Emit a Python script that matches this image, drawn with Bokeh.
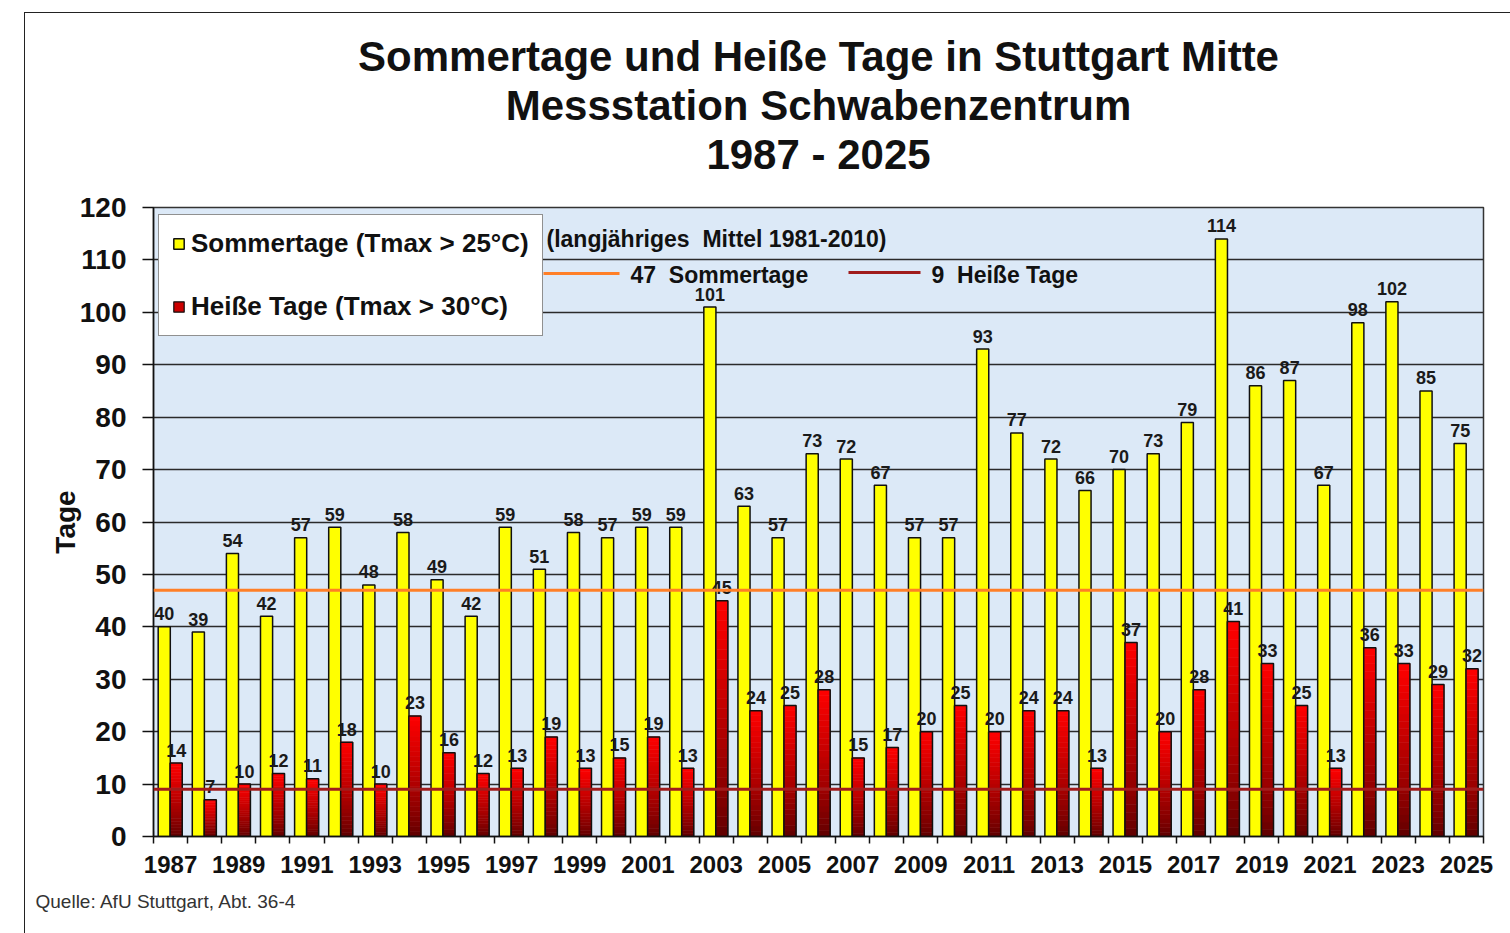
import numpy as np
from bokeh.plotting import figure
from bokeh.models import (Range1d, FixedTicker, ColumnDataSource, Label, Span,
                          Legend, LegendItem, Title, InlineStyleSheet)
from bokeh.transform import dodge
from bokeh.core.properties import value
from bokeh.embed import file_html
from bokeh.resources import INLINE

# ---------------- data ----------------
years = list(range(1987, 2026))
sommertage = [40, 39, 54, 42, 57, 59, 48, 58, 49, 42,
              59, 51, 58, 57, 59, 59, 101, 63, 57, 73,
              72, 67, 57, 57, 93, 77, 72, 66, 70, 73,
              79, 114, 86, 87, 67, 98, 102, 85, 75]
heisse_tage = [14, 7, 10, 12, 11, 18, 10, 23, 16, 12,
               13, 19, 13, 15, 19, 13, 45, 24, 25, 28,
               15, 17, 20, 25, 20, 24, 24, 13, 37, 20,
               28, 41, 33, 25, 13, 36, 33, 29, 32]
mittel_sommertage = 47
mittel_heisse = 9
x_tick_years = list(range(1987, 2026, 2))
y_ticks = list(range(0, 121, 10))

title_lines = ["Sommertage und Heiße Tage in Stuttgart Mitte",
               "Messstation Schwabenzentrum",
               "1987 - 2025"]
legend_labels = ["Sommertage (Tmax > 25°C)", "Heiße Tage (Tmax > 30°C)"]
NB2 = "\u00a0 "
mittel_title = f"(langjähriges{NB2}Mittel 1981-2010)"
mittel_labels = [f"{mittel_sommertage}{NB2}Sommertage", f"{mittel_heisse}{NB2}Heiße Tage"]
source_text = "Quelle: AfU Stuttgart, Abt. 36-4"

# ---------------- layout ----------------
FONT = "Liberation Sans"
W, H = 1510, 933
BL, BR, BT, BB = 153, 27, 207, 97
frame_left_px = BL
frame_top_px = BT
frame_w = W - BL - BR
frame_h = H - BT - BB
x0, x1 = years[0] - 0.5, years[-1] + 0.5
y0, y1 = 0, 120


def dx(px):
    return x0 + (px - frame_left_px) * (x1 - x0) / frame_w


def dy(py):
    return y1 - (py - frame_top_px) * (y1 - y0) / frame_h


frame_css = InlineStyleSheet(css="""
:host::after {
  content: "";
  position: absolute;
  left: 24px; top: 12px; right: -40px; bottom: -40px;
  border-left: 1.5px solid #222;
  border-top: 1.5px solid #222;
  pointer-events: none;
}
""")

p = figure(width=W, height=H, x_range=Range1d(x0, x1), y_range=Range1d(y0, y1),
           output_backend="svg", toolbar_location=None,
           min_border_left=BL, min_border_right=BR, min_border_top=BT, min_border_bottom=BB,
           stylesheets=[frame_css])
p.background_fill_color = "#dce9f7"
p.border_fill_color = "white"
p.outline_line_color = "#333333"
p.outline_line_width = 1.5

p.xgrid.visible = False
p.ygrid.ticker = FixedTicker(ticks=y_ticks)
p.ygrid.grid_line_color = "#2a2a2a"
p.ygrid.grid_line_width = 1.3

# y axis
yax = p.yaxis[0]
yax.ticker = FixedTicker(ticks=y_ticks)
yax.axis_label = "Tage"
yax.axis_label_text_font = FONT
yax.axis_label_text_font_size = "28px"
yax.axis_label_text_font_style = "bold"
yax.axis_label_text_color = "#111111"
yax.axis_label_standoff = -4
yax.major_label_text_font = FONT
yax.major_label_text_font_size = "28px"
yax.major_label_text_font_style = "bold"
yax.major_label_text_color = "#111111"
yax.major_label_standoff = 16
yax.major_tick_out = 11
yax.major_tick_in = 0
yax.minor_tick_out = 0
yax.minor_tick_in = 0
yax.axis_line_color = "#111111"
yax.axis_line_width = 1.5
yax.major_tick_line_color = "#111111"
yax.major_tick_line_width = 1.5

# x axis
xax = p.xaxis[0]
xax.ticker = FixedTicker(ticks=x_tick_years,
                         minor_ticks=[y - 0.5 for y in years] + [years[-1] + 0.5])
xax.major_label_text_font = FONT
xax.major_label_text_font_size = "24px"
xax.major_label_text_font_style = "bold"
xax.major_label_text_color = "#111111"
xax.major_label_standoff = 12
xax.major_tick_out = 0
xax.major_tick_in = 0
xax.minor_tick_out = 7
xax.minor_tick_in = 0
xax.minor_tick_line_color = "#111111"
xax.minor_tick_line_width = 1.5
xax.axis_line_color = "#111111"
xax.axis_line_width = 1.5

# ---------------- bars ----------------
BAR_W = 0.355
OFF_S = -0.185
OFF_H = 0.165

src = ColumnDataSource(dict(year=years, s=sommertage, h=heisse_tage,
                            s_lbl=[str(v) for v in sommertage],
                            h_lbl=[str(v) for v in heisse_tage]))

r_yellow = p.vbar(x=dodge("year", OFF_S, range=p.x_range), top="s", width=BAR_W, source=src,
                  fill_color="#ffff00", line_color="#111111", line_width=1.5)

# red bars with vertical gradient (dark at bottom, bright red at top)
N = 24
seg = dict(year=[], bottom=[], top=[], color=[])
for yr, v in zip(years, heisse_tage):
    for k in range(N):
        t = ((k + 0.5) / N) ** 0.8
        r = int(round(92 + (255 - 92) * t))
        seg["year"].append(yr)
        seg["bottom"].append(v * k / N)
        seg["top"].append(v * (k + 1) / N)
        seg["color"].append("#%02x0000" % r)
seg_src = ColumnDataSource(seg)
p.vbar(x=dodge("year", OFF_H, range=p.x_range), bottom="bottom", top="top", width=BAR_W,
       source=seg_src, fill_color="color", line_color="color", line_width=0.6)
p.vbar(x=dodge("year", OFF_H, range=p.x_range), top="h", width=BAR_W, source=src,
       fill_alpha=0, line_color="#111111", line_width=1.5)

# legend proxy for the red series (placed outside the visible range)
r_red_proxy = p.vbar(x=[x0 - 50], top=[1], width=BAR_W, fill_color="#cc0000",
                     line_color="#111111", line_width=1.2)

# value labels
for col, off in (("s_lbl", OFF_S), ("h_lbl", OFF_H)):
    p.text(x=dodge("year", off, range=p.x_range), y=col[0], text=col, source=src,
           text_font=value(FONT), text_font_size="18px", text_font_style="bold",
           text_color="#1a1a1a", text_align="center", text_baseline="alphabetic",
           y_offset=-13)

# long-term mean lines
p.add_layout(Span(location=mittel_sommertage, dimension="width",
                  line_color="#ff7f27", line_width=3))
p.add_layout(Span(location=mittel_heisse, dimension="width",
                  line_color="#a01c1c", line_width=3))

# mean-line key
p.segment(x0=[dx(543)], y0=[dy(273)], x1=[dx(619)], y1=[dy(273)],
          line_color="#ff7f27", line_width=3)
p.segment(x0=[dx(848)], y0=[dy(272)], x1=[dx(920)], y1=[dy(272)],
          line_color="#a01c1c", line_width=3)
for txt, px, py in ((mittel_title, 546, 238), (mittel_labels[0], 630, 274),
                    (mittel_labels[1], 931, 274)):
    p.add_layout(Label(x=dx(px), y=dy(py), text=txt, text_font=FONT,
                       text_font_size="23px", text_font_style="bold",
                       text_color="#111111", text_align="left", text_baseline="middle"))

# legend
legend = Legend(items=[LegendItem(label=legend_labels[0], renderers=[r_yellow]),
                       LegendItem(label=legend_labels[1], renderers=[r_red_proxy])],
                location=(5, 836 - 336))
legend.label_text_font = FONT
legend.label_text_font_size = "26px"
legend.label_text_font_style = "bold"
legend.label_text_color = "#111111"
legend.glyph_width = 13
legend.glyph_height = 13
legend.label_standoff = 6
legend.padding = 13
legend.spacing = 32
legend.margin = 0
legend.border_line_color = "#222222"
legend.border_line_width = 1.5
legend.background_fill_color = "white"
legend.background_fill_alpha = 1.0
p.add_layout(legend, "center")

# titles: spacer first (closest to the frame), then lines bottom-up
p.add_layout(Title(text=" ", text_font=FONT, text_font_size="10px", standoff=17), "above")
for txt in reversed(title_lines):
    p.add_layout(Title(text=txt, align="center", offset=-10, text_font=FONT,
                       text_font_size="42px", text_font_style="bold",
                       text_color="#111111", standoff=0), "above")

# source note
p.add_layout(Title(text=source_text, align="left", offset=35 - BL, text_font=FONT,
                   text_font_size="19px", text_font_style="normal", text_color="#333333",
                   vertical_align="bottom", standoff=26), "below")

open("out.html", "w").write(file_html(p, INLINE))
